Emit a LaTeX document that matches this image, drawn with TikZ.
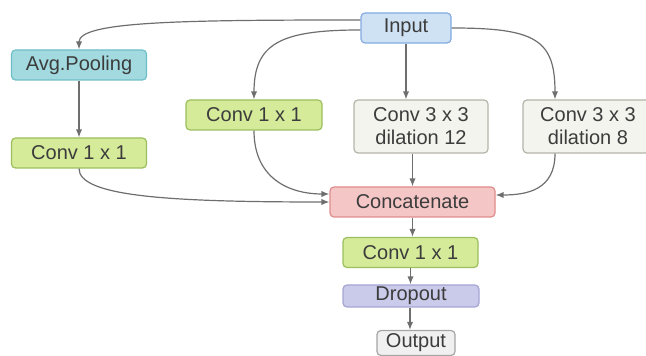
\documentclass[tikz,border=0pt]{standalone}
\usepackage{fontspec}
\setmainfont{Liberation Sans}
\usepackage{tikz}
\usetikzlibrary{arrows.meta}
\definecolor{asptext}{RGB}{60,60,60}
\definecolor{aspline}{RGB}{110,110,110}
\definecolor{aspblue}{RGB}{207,226,243}
\definecolor{aspbluedk}{RGB}{130,170,225}
\definecolor{aspcyan}{RGB}{162,218,224}
\definecolor{aspcyandk}{RGB}{110,190,200}
\definecolor{aspgreen}{RGB}{213,235,154}
\definecolor{aspgreendk}{RGB}{156,190,92}
\definecolor{aspcream}{RGB}{244,244,238}
\definecolor{aspcreamdk}{RGB}{180,180,168}
\definecolor{asppink}{RGB}{245,198,198}
\definecolor{asppinkdk}{RGB}{225,140,140}
\definecolor{asplilac}{RGB}{202,202,234}
\definecolor{asplilacdk}{RGB}{165,165,212}
\definecolor{aspgrey}{RGB}{240,240,240}
\definecolor{aspgreydk}{RGB}{165,165,165}

\begin{document}
\begin{tikzpicture}[x=0.5pt, y=-0.5pt,
      box/.style={rectangle, rounded corners=2pt, minimum height=15pt, align=center, line width=0.6pt, text=asptext, font=\fontsize{10}{11.5}\selectfont, inner sep=0pt},
      conv/.style={box, fill=aspgreen, draw=aspgreendk, minimum width=67.5pt},
      dil/.style={box, fill=aspcream, draw=aspcreamdk, minimum height=26.5pt},
      arr/.style={-{Latex[length=1.4mm, width=1.1mm]}, line width=0.6pt, color=aspline}
    ]
      \useasboundingbox (0,0) rectangle (646,356);

      % Top: Input
      \node[box, fill=aspblue, draw=aspbluedk, minimum width=45pt] (input) at (406, 28) {Input};

      % Left: pooling branch
      \node[box, fill=aspcyan, draw=aspcyandk, minimum width=67.5pt] (pool) at (79, 65) {Avg.Pooling};
      \node[conv] (convl) at (79, 153) {Conv 1 x 1};

      % Middle: parallel branches
      \node[conv, minimum width=68pt] (convm) at (254, 115) {Conv 1 x 1};
      \node[dil, minimum width=67pt] (dil12) at (421, 126.5) {Conv 3 x 3\\dilation 12};
      \node[dil, minimum width=65pt] (dil8) at (588, 126.5) {Conv 3 x 3\\dilation 8};

      % Bottom: merge and head
      \node[box, fill=asppink, draw=asppinkdk, minimum width=82.5pt] (concat) at (412.5, 202) {Concatenate};
      \node[conv] (convb) at (410.5, 252.5) {Conv 1 x 1};
      \node[box, fill=asplilac, draw=asplilacdk, minimum width=68pt, minimum height=11pt] (drop) at (411, 296) {Dropout};
      \node[box, fill=aspgrey, draw=aspgreydk, minimum width=39pt, minimum height=12.5pt] (output) at (416, 343) {Output};

      % Paths from the input
      \draw[arr] ([yshift=4pt]input.west) to[out=180, in=90, out distance=90pt, in distance=14pt] (pool.north);
      \draw[arr] ([yshift=-1pt]input.west) to[out=180, in=90, out distance=40pt, in distance=28pt] (convm.north);
      \draw[arr] (input.south) -- (input.south |- dil12.north);
      \draw[arr] (input.east) to[out=0, in=90, out distance=42pt, in distance=30pt] (dil8.north -| 555,0);

      % Paths into the concatenation
      \draw[arr] (pool) -- (convl);
      \draw[arr] (convl.south) to[out=-90, in=180, out distance=14pt, in distance=80pt] (concat.west);
      \draw[arr] (convm.south) to[out=-90, in=180, out distance=24pt, in distance=20pt] ([yshift=4pt]concat.west);
      \draw[arr] (dil12.south -| concat.north) -- (concat.north);
      \draw[arr] (dil8.south -| 555,0) to[out=-90, in=0, out distance=18pt, in distance=16pt] ([yshift=3.5pt]concat.east);

      % Head
      \draw[arr] (concat.south) -- (convb.north -| concat.south);
      \draw[arr] (convb.south) -- (drop.north -| convb.south);
      \draw[arr] (drop.south -| 410,0) -- (output.north -| 410,0);
    \end{tikzpicture}
\end{document}
